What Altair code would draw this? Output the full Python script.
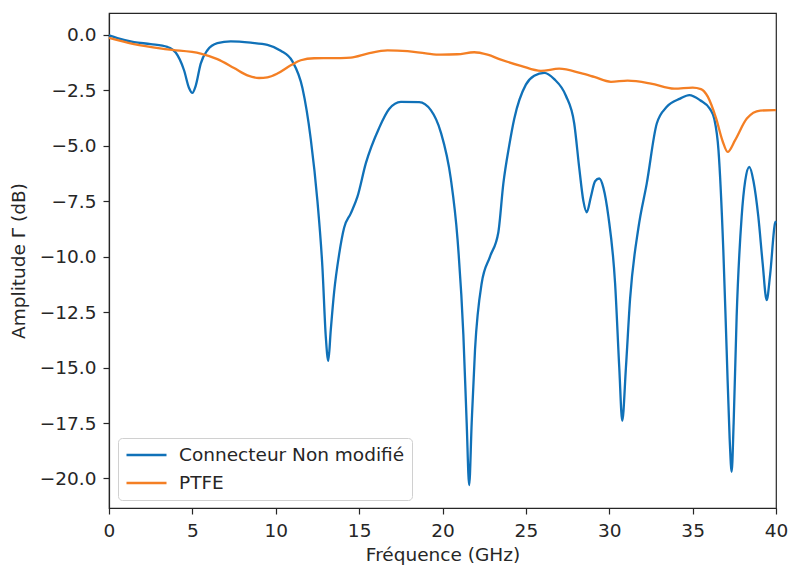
import altair as alt
import pandas as pd

# Reflection amplitude of the unmodified connector (GHz, dB)
freq_conn = [0.0, 0.5, 1.5, 2.5, 3.5, 4.0, 4.5, 4.8, 5.0, 5.2, 5.5, 5.9, 6.5, 7.3, 8.5,
             9.5, 10.3, 11.0, 11.6, 12.1, 12.5, 12.8, 13.0, 13.15, 13.3, 13.5, 13.8, 14.1,
             14.5, 14.9, 15.4, 16.2, 16.8, 17.5, 18.6, 19.3, 19.9, 20.5, 20.9, 21.25,
             21.45, 21.6, 21.75, 21.95, 22.35, 22.85, 23.35, 23.65, 24.0, 24.3, 25.0,
             25.5, 26.1, 26.7, 27.4, 27.9, 28.2, 28.45, 28.65, 28.9, 29.15, 29.4, 29.65,
             29.95, 30.35, 30.6, 30.78, 31.0, 31.25, 31.75, 32.25, 32.85, 33.45, 34.25,
             34.8, 35.45, 36.05, 36.3, 36.55, 36.84, 37.04, 37.22, 37.34, 37.46, 37.64,
             37.94, 38.15, 38.4, 38.65, 38.94, 39.2, 39.44, 39.65, 39.94, 40.0]
amp_conn = [-0.03, -0.15, -0.33, -0.42, -0.55, -0.8, -1.6, -2.4, -2.62, -2.3, -1.3, -0.7,
            -0.38, -0.3, -0.36, -0.46, -0.72, -1.2, -2.4, -4.7, -7.5, -10.5, -13.6, -14.7,
            -13.3, -11.6, -9.9, -8.7, -8.05, -7.3, -5.8, -4.2, -3.35, -3.03, -3.04, -3.4,
            -4.4, -6.5, -9.2, -13.5, -17.5, -20.3, -17.5, -14.2, -11.2, -10.0, -8.9, -6.7,
            -5.0, -3.8, -2.25, -1.85, -1.72, -2.0, -2.75, -4.0, -6.0, -7.5, -8.0, -7.3,
            -6.6, -6.48, -6.9, -8.2, -11.2, -15.0, -17.4, -15.0, -11.9, -8.7, -6.7, -4.0,
            -3.25, -2.88, -2.72, -2.95, -3.35, -3.8, -5.2, -9.7, -14.2, -18.2, -19.7,
            -17.5, -12.7, -8.2, -6.6, -5.96, -6.6, -8.2, -10.3, -11.96, -10.8, -8.5, -8.4]

# Reflection amplitude with the PTFE part
freq_ptfe = [0.0, 1.5, 3.5, 5.5, 6.5, 7.5, 8.3, 9.0, 9.5, 10.1, 10.9, 11.5, 12.3, 13.9,
             14.5, 15.5, 16.7, 17.9, 19.0, 19.9, 20.9, 21.9, 22.7, 23.5, 24.7, 25.9,
             27.0, 28.3, 29.1, 30.1, 31.1, 32.5, 33.9, 35.0, 35.5, 35.9, 36.4, 36.8,
             37.1, 37.55, 38.25, 39.05, 39.9, 40.0]
amp_ptfe = [-0.14, -0.42, -0.66, -0.85, -1.1, -1.5, -1.83, -1.95, -1.92, -1.75, -1.38,
            -1.15, -1.06, -1.05, -1.03, -0.85, -0.7, -0.74, -0.84, -0.9, -0.88, -0.79,
            -0.9, -1.12, -1.4, -1.63, -1.53, -1.73, -1.9, -2.12, -2.07, -2.2, -2.43,
            -2.38, -2.45, -2.78, -3.75, -4.8, -5.28, -4.75, -3.78, -3.42, -3.4, -3.4]

series_names = ["Connecteur Non modifié", "PTFE"]
series_colors = ["#1071b8", "#f47f24"]
x_ticks = [0, 5, 10, 15, 20, 25, 30, 35, 40]
y_ticks = [0.0, -2.5, -5.0, -7.5, -10.0, -12.5, -15.0, -17.5, -20.0]

df = pd.concat([
    pd.DataFrame({"freq": freq_conn, "amp": amp_conn, "serie": series_names[0]}),
    pd.DataFrame({"freq": freq_ptfe, "amp": amp_ptfe, "serie": series_names[1]}),
])

ink = "#262626"
font = "DejaVu Sans"
fs = 18.5

chart = (
    alt.Chart(df)
    .mark_line(interpolate="monotone", strokeWidth=2.3)
    .encode(
        x=alt.X("freq:Q",
                scale=alt.Scale(domain=[0, 40], nice=False, zero=False),
                axis=alt.Axis(values=x_ticks, format="d", labelFlush=False,
                              title="Fréquence (GHz)")),
        y=alt.Y("amp:Q",
                scale=alt.Scale(domain=[-21.33, 0.98], nice=False, zero=False),
                axis=alt.Axis(values=y_ticks, format=".1f", title="Amplitude Γ (dB)")),
        color=alt.Color("serie:N",
                        scale=alt.Scale(domain=series_names, range=series_colors),
                        legend=alt.Legend(
                            title=None, orient="none", legendX=9, legendY=425,
                            symbolType="stroke", symbolSize=1600, symbolStrokeWidth=2.3,
                            labelFontSize=fs, labelFont=font, labelColor=ink,
                            labelLimit=0, labelOffset=11, padding=7, rowPadding=8,
                            clipHeight=20, fillColor="white", strokeColor="#d0d0d0",
                            cornerRadius=4)),
    )
    .properties(
        width=667, height=495,
        autosize=alt.AutoSizeParams(type="none"),
        padding={"left": 109, "top": 13, "right": 12, "bottom": 57},
    )
    .configure_view(stroke=ink, strokeWidth=1.2)
    .configure_axis(
        grid=False, domainColor=ink, domainWidth=1.2, tickColor=ink, tickWidth=1.2,
        tickSize=6, labelFont=font, labelFontSize=fs, labelColor=ink,
        titleFont=font, titleFontSize=fs, titleColor=ink, titleFontWeight="normal",
    )
    .configure_axisX(labelPadding=7, titlePadding=6)
    .configure_axisY(labelPadding=7, titlePadding=11)
)

chart.save("out.html", embed_options={"renderer": "svg", "actions": False})
